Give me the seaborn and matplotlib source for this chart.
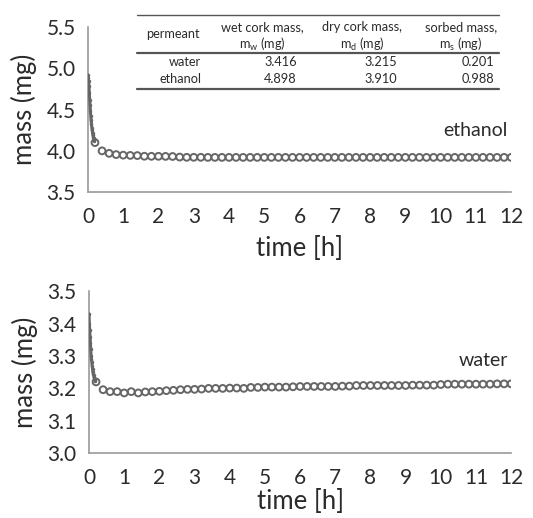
import matplotlib
matplotlib.use("Agg")
import matplotlib.pyplot as plt
import seaborn as sns
import pandas as pd
from matplotlib.lines import Line2D

# --- data ---
time_h = [0.2, 0.4, 0.6, 0.8, 1.0, 1.2, 1.4, 1.6, 1.8, 2.0,
          2.2, 2.4, 2.6, 2.8, 3.0, 3.2, 3.4, 3.6, 3.8, 4.0,
          4.2, 4.4, 4.6, 4.8, 5.0, 5.2, 5.4, 5.6, 5.8, 6.0,
          6.2, 6.4, 6.6, 6.8, 7.0, 7.2, 7.4, 7.6, 7.8, 8.0,
          8.2, 8.4, 8.6, 8.8, 9.0, 9.2, 9.4, 9.6, 9.8, 10.0,
          10.2, 10.4, 10.6, 10.8, 11.0, 11.2, 11.4, 11.6, 11.8, 12.0]

ethanol_mass = [4.100, 4.000, 3.970, 3.955, 3.948, 3.945, 3.943, 3.935, 3.934, 3.934,
                3.933, 3.932, 3.925, 3.922, 3.922, 3.922, 3.921, 3.921, 3.921, 3.921,
                3.921, 3.921, 3.921, 3.921, 3.921, 3.921, 3.921, 3.921, 3.921, 3.921,
                3.921, 3.921, 3.921, 3.921, 3.921, 3.921, 3.921, 3.921, 3.921, 3.921,
                3.921, 3.921, 3.921, 3.921, 3.921, 3.921, 3.921, 3.921, 3.921, 3.921,
                3.921, 3.921, 3.921, 3.921, 3.921, 3.921, 3.921, 3.921, 3.921, 3.921]

water_mass = [3.220, 3.196, 3.190, 3.190, 3.186, 3.190, 3.186, 3.189, 3.190, 3.191,
              3.193, 3.194, 3.196, 3.197, 3.197, 3.198, 3.200, 3.200, 3.200, 3.201,
              3.201, 3.200, 3.203, 3.203, 3.204, 3.204, 3.204, 3.204, 3.205, 3.206,
              3.206, 3.206, 3.206, 3.206, 3.206, 3.207, 3.207, 3.209, 3.209, 3.209,
              3.209, 3.209, 3.209, 3.209, 3.209, 3.210, 3.210, 3.210, 3.210, 3.212,
              3.213, 3.213, 3.213, 3.213, 3.213, 3.213, 3.213, 3.214, 3.214, 3.214]

# dense sampling during the first minutes
early_time_h = [0.00, 0.01, 0.02, 0.03, 0.04, 0.05, 0.06, 0.07, 0.08, 0.09,
                0.10, 0.11, 0.12, 0.13, 0.14, 0.15, 0.16, 0.17, 0.18]
early_ethanol = [4.92, 4.88, 4.84, 4.78, 4.70, 4.62, 4.55, 4.48, 4.42, 4.37,
                 4.32, 4.28, 4.25, 4.22, 4.19, 4.17, 4.15, 4.13, 4.12]
early_water = [3.43, 3.40, 3.38, 3.36, 3.34, 3.32, 3.30, 3.29, 3.28, 3.27,
               3.26, 3.25, 3.245, 3.24, 3.235, 3.23, 3.228, 3.225, 3.222]

table_header = ["permeant", "wet cork mass,", "dry cork mass,", "sorbed mass,"]
table_units = [r"m$_\mathrm{w}$ (mg)", r"m$_\mathrm{d}$ (mg)", r"m$_\mathrm{s}$ (mg)"]
table_permeant = ["water", "ethanol"]
table_wet = ["3.416", "4.898"]
table_dry = ["3.215", "3.910"]
table_sorbed = ["0.201", "0.988"]

sns.set_style("white")
plt.rcParams["font.family"] = ["Lato", "DejaVu Sans"]
plt.rcParams["mathtext.fontset"] = "custom"
plt.rcParams["mathtext.rm"] = "Lato"
plt.rcParams["mathtext.it"] = "Lato"

GRIS = "#666666"
EIXO = "#9a9a9a"
TEXTO = "#2b2b2b"

fig = plt.figure(figsize=(5.33, 5.18), dpi=100)
ax1 = fig.add_axes([0.165, 0.629, 0.794, 0.319])
ax2 = fig.add_axes([0.167, 0.125, 0.792, 0.313])

df_eth = pd.DataFrame({"t": time_h, "m": ethanol_mass})
df_wat = pd.DataFrame({"t": time_h, "m": water_mass})
df_eth0 = pd.DataFrame({"t": early_time_h, "m": early_ethanol})
df_wat0 = pd.DataFrame({"t": early_time_h, "m": early_water})


def painel(ax, df, df0, ylim, yticks, rotulo, ypos_rotulo, pad_x):
    sns.lineplot(data=df0, x="t", y="m", ax=ax, color=GRIS, linewidth=2.2,
                 marker="o", markersize=2.5, markeredgewidth=0, zorder=3)
    sns.scatterplot(data=df, x="t", y="m", ax=ax, marker="o", s=24,
                    facecolor="none", edgecolor=GRIS, linewidth=1.4, zorder=3)
    ax.set_xlim(0, 12)
    ax.set_ylim(*ylim)
    ax.set_xticks(range(0, 13))
    ax.set_yticks(yticks)
    ax.set_yticklabels([f"{v:.1f}" for v in yticks])
    ax.set_xlabel("time [h]", fontsize=18.5, color=TEXTO, labelpad=pad_x)
    ax.set_ylabel("mass (mg)", fontsize=18.5, color=TEXTO, labelpad=7)
    ax.tick_params(axis="x", direction="inout", length=5, color=EIXO,
                   labelsize=15, labelcolor=TEXTO, pad=8)
    ax.tick_params(axis="y", direction="out", length=4, color=EIXO,
                   labelsize=15, labelcolor=TEXTO, pad=5)
    for lado in ["top", "right"]:
        ax.spines[lado].set_visible(False)
    for lado in ["left", "bottom"]:
        ax.spines[lado].set_color(EIXO)
        ax.spines[lado].set_linewidth(1.2)
    ax.text(11.9, ypos_rotulo, rotulo, ha="right", va="center",
            fontsize=14, color=TEXTO)


painel(ax1, df_eth, df_eth0, (3.5, 5.5), [3.5, 4.0, 4.5, 5.0, 5.5], "ethanol", 4.25, 7)
painel(ax2, df_wat, df_wat0, (3.0, 3.5), [3.0, 3.1, 3.2, 3.3, 3.4, 3.5], "water", 3.285, 1)

# --- tabela inserida no painel superior ---
def fx(px):
    return px / 533


def fy(py):
    return 1 - py / 518


for py, lw in [(15, 1.0), (53, 1.6), (89, 1.6)]:
    fig.add_artist(Line2D([fx(137), fx(499)], [fy(py), fy(py)],
                          color="#555555", linewidth=lw))

fs = 9.2
fig.text(fx(173), fy(34), table_header[0], ha="center", va="center", fontsize=fs, color=TEXTO)
for xc, h, u in zip([262, 362, 461], table_header[1:], table_units):
    fig.text(fx(xc), fy(27), h, ha="center", va="center", fontsize=fs, color=TEXTO)
    fig.text(fx(xc), fy(44), u, ha="center", va="center", fontsize=fs, color=TEXTO)
for i, py in enumerate([62, 79]):
    fig.text(fx(201), fy(py), table_permeant[i], ha="right", va="center", fontsize=fs, color=TEXTO)
    fig.text(fx(297), fy(py), table_wet[i], ha="right", va="center", fontsize=fs, color=TEXTO)
    fig.text(fx(397), fy(py), table_dry[i], ha="right", va="center", fontsize=fs, color=TEXTO)
    fig.text(fx(494), fy(py), table_sorbed[i], ha="right", va="center", fontsize=fs, color=TEXTO)

fig.savefig("out.png", dpi=100)
